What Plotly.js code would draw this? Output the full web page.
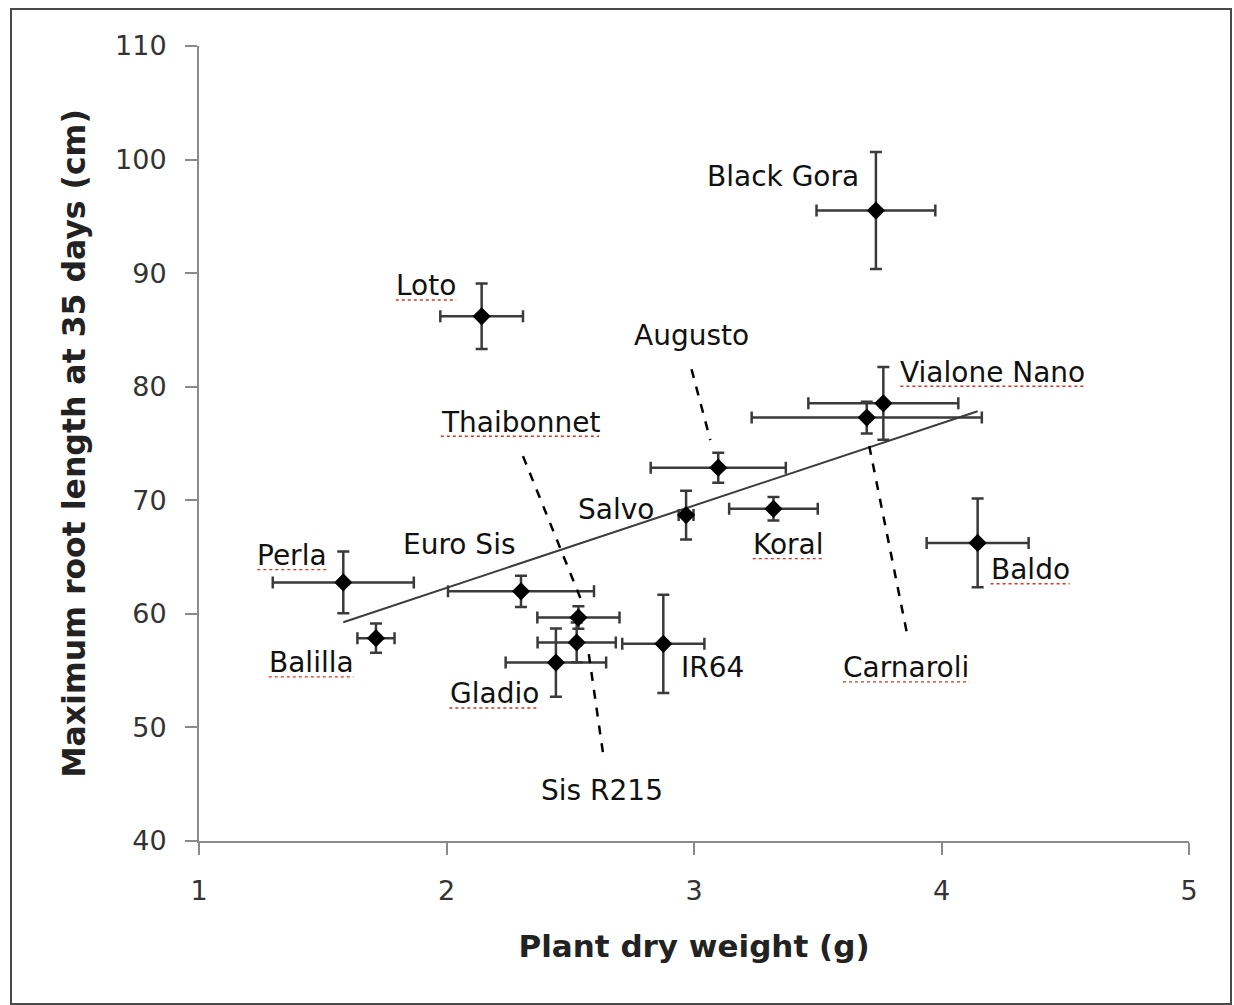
<!DOCTYPE html>
<html><head><meta charset="utf-8">
<script src="https://cdn.plot.ly/plotly-3.0.1.min.js"></script>
<style>
html,body{margin:0;padding:0;background:#fff;}
#frame{position:absolute;left:10px;top:8px;width:1222px;height:997px;border:2px solid #4a4a4a;box-sizing:border-box;}
#chart{position:absolute;left:0;top:0;width:1234px;height:1005px;}
</style></head><body>
<div id="frame"></div>
<div id="chart"></div>
<script>
// ---- data ----
const varieties     = ["Perla","Balilla","Euro Sis","Thaibonnet","Sis R215","Gladio","IR64","Salvo","Augusto","Koral","Carnaroli","Vialone Nano","Black Gora","Loto","Baldo"];
const dryWeight     = [1.583, 1.715, 2.301, 2.533, 2.526, 2.442, 2.876, 2.968, 3.098, 3.321, 3.698, 3.765, 3.735, 2.142, 4.146];
const dryWeightErr  = [0.285, 0.075, 0.295, 0.166, 0.158, 0.203, 0.166, 0.030, 0.273, 0.179, 0.465, 0.303, 0.240, 0.167, 0.206];
const rootLength    = [62.77, 57.86, 61.98, 59.68, 57.48, 55.71, 57.36, 68.70, 72.87, 69.25, 77.28, 78.54, 95.51, 86.20, 66.25];
const rootLengthErr = [2.72, 1.28, 1.38, 1.00, 1.75, 3.00, 4.33, 2.15, 1.32, 1.03, 1.40, 3.20, 5.15, 2.88, 3.90];
const xTicks = [1, 2, 3, 4, 5];
const yTicks = [40, 50, 60, 70, 80, 90, 100, 110];
// labels shown with a spell-check underline in the original
const underlined = ["Perla","Balilla","Gladio","Loto","Thaibonnet","Koral","Vialone Nano","Baldo","Carnaroli"];

// ---- annotation placement (layout only) ----
const labelPlacement = {
  "Perla":        [1.376, 65.13],
  "Balilla":      [1.453, 55.68],
  "Euro Sis":     [2.051, 66.10],
  "Thaibonnet":   [2.297, 76.87],
  "Sis R215":     [2.628, 44.48],
  "Gladio":       [2.192, 52.95],
  "IR64":         [3.073, 55.24],
  "Salvo":        [2.685, 69.19],
  "Augusto":      [2.988, 84.55],
  "Koral":        [3.380, 66.10],
  "Carnaroli":    [3.857, 55.24],
  "Vialone Nano": [4.208, 81.28],
  "Black Gora":   [3.360, 98.49],
  "Loto":         [1.917, 88.87],
  "Baldo":        [4.358, 63.89]
};
const leaderLines = [
  [2.309, 73.89, 2.545, 61.18],   // Thaibonnet
  [2.575, 56.45, 2.632, 47.79],   // Sis R215
  [2.990, 81.54, 3.066, 75.30],   // Augusto
  [3.708, 74.79, 3.859, 58.45]    // Carnaroli
];

// ---- linear trend (least squares) ----
const n = dryWeight.length;
const mx = dryWeight.reduce((a,b)=>a+b,0)/n;
const my = rootLength.reduce((a,b)=>a+b,0)/n;
let sxy = 0, sxx = 0;
for (let i=0;i<n;i++){ sxy += (dryWeight[i]-mx)*(rootLength[i]-my); sxx += (dryWeight[i]-mx)**2; }
const slope = sxy/sxx, icpt = my - slope*mx;
const tx = [Math.min(...dryWeight), Math.max(...dryWeight)];
const ty = tx.map(v => icpt + slope*v);

const FONT = "DejaVu Sans";
const LABEL_SIZE = 28;
const traces = [
  {x: tx, y: ty, mode: "lines", line: {color: "#3c3c3c", width: 2}, hoverinfo: "skip", showlegend: false},
  {
    x: dryWeight, y: rootLength, text: varieties, mode: "markers", type: "scatter", showlegend: false,
    marker: {symbol: "diamond", size: 14, color: "#000"},
    error_x: {type: "data", array: dryWeightErr, visible: true, color: "#3a3a3a", thickness: 2.5, width: 6},
    error_y: {type: "data", array: rootLengthErr, visible: true, color: "#3a3a3a", thickness: 2.5, width: 6}
  }
];

const annotations = varieties.map(v => ({
  x: labelPlacement[v][0], y: labelPlacement[v][1], xref: "x", yref: "y",
  text: v, showarrow: false, xanchor: "center", yanchor: "middle",
  font: {family: FONT, size: LABEL_SIZE, color: "#111"}
}));

const shapes = leaderLines.map(s => ({
  type: "line", xref: "x", yref: "y", x0: s[0], y0: s[1], x1: s[2], y1: s[3],
  line: {color: "#000", width: 2.5, dash: "dash"}
}));

// red spell-check style underline under some labels
const ctx = document.createElement("canvas").getContext("2d");
ctx.font = LABEL_SIZE + "px '" + FONT + "'";
underlined.forEach(v => {
  const w = ctx.measureText(v).width;
  shapes.push({
    type: "line", xref: "x", yref: "y",
    xsizemode: "pixel", xanchor: labelPlacement[v][0], x0: -w/2, x1: w/2,
    ysizemode: "pixel", yanchor: labelPlacement[v][1], y0: -14, y1: -14,
    line: {color: "#e0301e", width: 1.4, dash: "dot"}
  });
});

const layout = {
  width: 1234, height: 1005,
  margin: {l: 199, r: 45, t: 46, b: 164},
  paper_bgcolor: "rgba(0,0,0,0)", plot_bgcolor: "rgba(0,0,0,0)",
  font: {family: FONT, color: "#333"},
  xaxis: {
    range: [1, 5], tickvals: xTicks, ticktext: xTicks.map(String),
    showgrid: false, zeroline: false, showline: true, linecolor: "#8a8a8a", linewidth: 2,
    ticks: "outside", ticklen: 12, tickcolor: "#8a8a8a", tickwidth: 2,
    tickfont: {family: FONT, size: 27, color: "#333"}, ticklabelstandoff: 13,
    title: {text: "<b>Plant dry weight (g)</b>", font: {family: FONT, size: 31, color: "#222"}, standoff: 30}
  },
  yaxis: {
    range: [40, 110], tickvals: yTicks, ticktext: yTicks.map(String),
    showgrid: false, zeroline: false, showline: true, linecolor: "#8a8a8a", linewidth: 2,
    ticks: "outside", ticklen: 12, tickcolor: "#8a8a8a", tickwidth: 2,
    tickfont: {family: FONT, size: 27, color: "#333"}, ticklabelstandoff: 13,
    title: {text: "<b>Maximum root length at 35 days (cm)</b>", font: {family: FONT, size: 31.5, color: "#222"}, standoff: 20}
  },
  annotations: annotations,
  shapes: shapes
};

Plotly.newPlot("chart", traces, layout, {displayModeBar: false, staticPlot: true});
</script>
</body></html>
